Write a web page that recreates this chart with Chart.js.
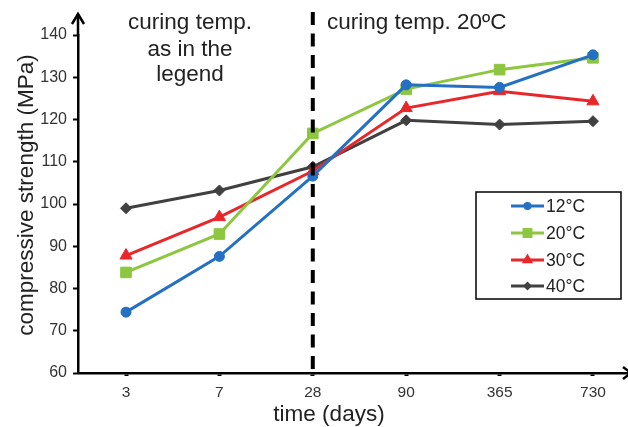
<!DOCTYPE html>
<html>
<head>
<meta charset="utf-8">
<script src="https://cdn.jsdelivr.net/npm/chart.js@4/dist/chart.umd.min.js"></script>
<style>
  html, body { margin: 0; padding: 0; background: #fff; }
  #wrap { width: 628px; height: 427px; position: relative; }
</style>
</head>
<body>
<div id="wrap"><canvas id="c" width="628" height="427"></canvas></div>
<script>
// ---- data ----
const categories = ['3', '7', '28', '90', '365', '730'];
const seriesLabels = ['12°C', '20°C', '30°C', '40°C'];
const s12 = [74.4, 87.6, 106.6, 128.2, 127.6, 135.3];
const s20 = [83.8, 92.9, 116.7, 127.2, 131.8, 134.6];
const s30 = [87.8, 96.9, 107.8, 122.7, 126.7, 124.3];
const s40 = [99.0, 103.2, 108.8, 119.8, 118.8, 119.6];
const yTicks = [60, 70, 80, 90, 100, 110, 120, 130, 140];
const dividerCategory = '28';

const seriesValues = [s12, s20, s30, s40];
const colors = ['#2470C2', '#8DC63F', '#E8272B', '#404040'];
const styles = ['circle', 'rect', 'triangle', 'rectRot'];
const radii = [5, 7.5, 7, 5.5];

function toPoints(arr) { return arr.map((v, i) => ({ x: i, y: v })); }

const datasets = seriesValues.map((vals, k) => ({
  label: seriesLabels[k],
  data: toPoints(vals),
  borderColor: colors[k],
  backgroundColor: colors[k],
  borderWidth: 3,
  pointStyle: styles[k],
  pointRadius: radii[k],
  pointBorderWidth: 1,
  pointBorderColor: colors[k],
  pointBackgroundColor: colors[k],
  tension: 0,
  clip: false
}));

function drawMarker(ctx, style, x, y, r, color) {
  ctx.save();
  ctx.fillStyle = color;
  ctx.beginPath();
  if (style === 'circle') {
    ctx.arc(x, y, r, 0, Math.PI * 2);
  } else if (style === 'rect') {
    const s = r * Math.SQRT1_2;
    ctx.rect(x - s, y - s, 2 * s, 2 * s);
  } else if (style === 'triangle') {
    ctx.moveTo(x, y - r);
    ctx.lineTo(x + r * 0.866, y + r * 0.5);
    ctx.lineTo(x - r * 0.866, y + r * 0.5);
    ctx.closePath();
  } else {
    ctx.moveTo(x, y - r); ctx.lineTo(x + r, y); ctx.lineTo(x, y + r); ctx.lineTo(x - r, y); ctx.closePath();
  }
  ctx.fill();
  ctx.restore();
}

const FONT = '"Liberation Sans", Arial, sans-serif';

const decor = {
  id: 'decor',
  afterDatasetsDraw(chart) {
    const ctx = chart.ctx;
    const xs = chart.scales.x, ca = chart.chartArea;
    const dx = xs.getPixelForValue(categories.indexOf(dividerCategory));
    ctx.save();
    ctx.strokeStyle = '#000';
    ctx.lineWidth = 4;
    ctx.setLineDash([13, 8.5]);
    ctx.beginPath();
    ctx.moveTo(dx, 12);
    ctx.lineTo(dx, ca.bottom);
    ctx.stroke();
    ctx.restore();
  },
  afterDraw(chart) {
    const ctx = chart.ctx;
    const ca = chart.chartArea;
    ctx.save();
    // y-axis extension and arrow
    ctx.strokeStyle = '#000';
    ctx.lineWidth = 2.5;
    ctx.beginPath();
    ctx.moveTo(ca.left, ca.top + 1);
    ctx.lineTo(ca.left, 14);
    ctx.stroke();
    ctx.beginPath();
    ctx.moveTo(ca.left - 6, 24);
    ctx.lineTo(ca.left, 14);
    ctx.lineTo(ca.left + 6, 24);
    ctx.stroke();
    // x-axis arrow at right edge
    ctx.beginPath();
    ctx.moveTo(ca.right - 5, ca.bottom - 6);
    ctx.lineTo(ca.right + 3, ca.bottom);
    ctx.lineTo(ca.right - 5, ca.bottom + 6);
    ctx.stroke();

    // annotations
    ctx.fillStyle = '#222';
    ctx.font = '22.5px ' + FONT;
    ctx.textAlign = 'center';
    ctx.textBaseline = 'alphabetic';
    ctx.fillText('curing temp.', 190, 29);
    ctx.fillText('as in the', 190, 55.5);
    ctx.fillText('legend', 190, 81);
    ctx.textAlign = 'left';
    ctx.fillText('curing temp. 20ºC', 327, 29);

    // axis titles
    ctx.textAlign = 'center';
    ctx.fillText('time (days)', 329, 421);
    ctx.save();
    ctx.translate(33, 195);
    ctx.rotate(-Math.PI / 2);
    ctx.fillText('compressive strength (MPa)', 0, 0);
    ctx.restore();

    // legend box
    const bx = 476, by = 192, bw = 145, bh = 107;
    ctx.fillStyle = '#fff';
    ctx.fillRect(bx, by, bw, bh);
    ctx.strokeStyle = '#000';
    ctx.lineWidth = 1.5;
    ctx.strokeRect(bx, by, bw, bh);
    const rowY = [206, 233, 260, 286];
    ctx.font = '17.5px ' + FONT;
    ctx.textAlign = 'left';
    ctx.textBaseline = 'middle';
    chart.data.datasets.forEach((ds, k) => {
      const y = rowY[k];
      ctx.strokeStyle = ds.borderColor;
      ctx.lineWidth = 3;
      ctx.beginPath();
      ctx.moveTo(511, y);
      ctx.lineTo(544, y);
      ctx.stroke();
      drawMarker(ctx, ds.pointStyle, 527.5, y, k === 0 ? 4 : (k === 1 ? 7 : (k === 2 ? 6.5 : 4.5)), ds.borderColor);
      ctx.fillStyle = '#222';
      ctx.fillText(ds.label, 546, y + 1);
    });
    ctx.restore();
  }
};

new Chart(document.getElementById('c'), {
  type: 'line',
  data: { datasets },
  options: {
    responsive: false,
    animation: false,
    devicePixelRatio: 1,
    layout: { autoPadding: false, padding: { top: 35, right: 0, left: 0, bottom: 0 } },
    plugins: { legend: { display: false }, tooltip: { enabled: false } },
    scales: {
      x: {
        type: 'linear',
        min: -0.514,
        max: 5.375,
        afterBuildTicks(scale) { scale.ticks = categories.map((_, i) => ({ value: i })); },
        afterFit(scale) { scale.height = 54; scale.paddingRight = 0; scale.paddingLeft = 0; },
        ticks: {
          autoSkip: false,
          maxRotation: 0,
          padding: 7,
          color: '#333',
          font: { family: FONT, size: 15.5 },
          callback: (v) => categories[v]
        },
        grid: { drawOnChartArea: false, drawTicks: true, tickLength: 3, tickWidth: 4, tickColor: '#000' },
        border: { display: true, color: '#000', width: 2.5 }
      },
      y: {
        type: 'linear',
        min: 60,
        max: 140,
        afterBuildTicks(scale) { scale.ticks = yTicks.map(v => ({ value: v })); },
        afterFit(scale) { scale.width = 78; scale.paddingTop = 0; scale.paddingBottom = 0; },
        ticks: {
          padding: 6,
          color: '#333',
          font: { family: FONT, size: 16 }
        },
        grid: { drawOnChartArea: false, drawTicks: true, tickLength: 5, tickWidth: 2, tickColor: '#000' },
        border: { display: true, color: '#000', width: 2.5 }
      }
    }
  },
  plugins: [decor]
});
</script>
</body>
</html>
